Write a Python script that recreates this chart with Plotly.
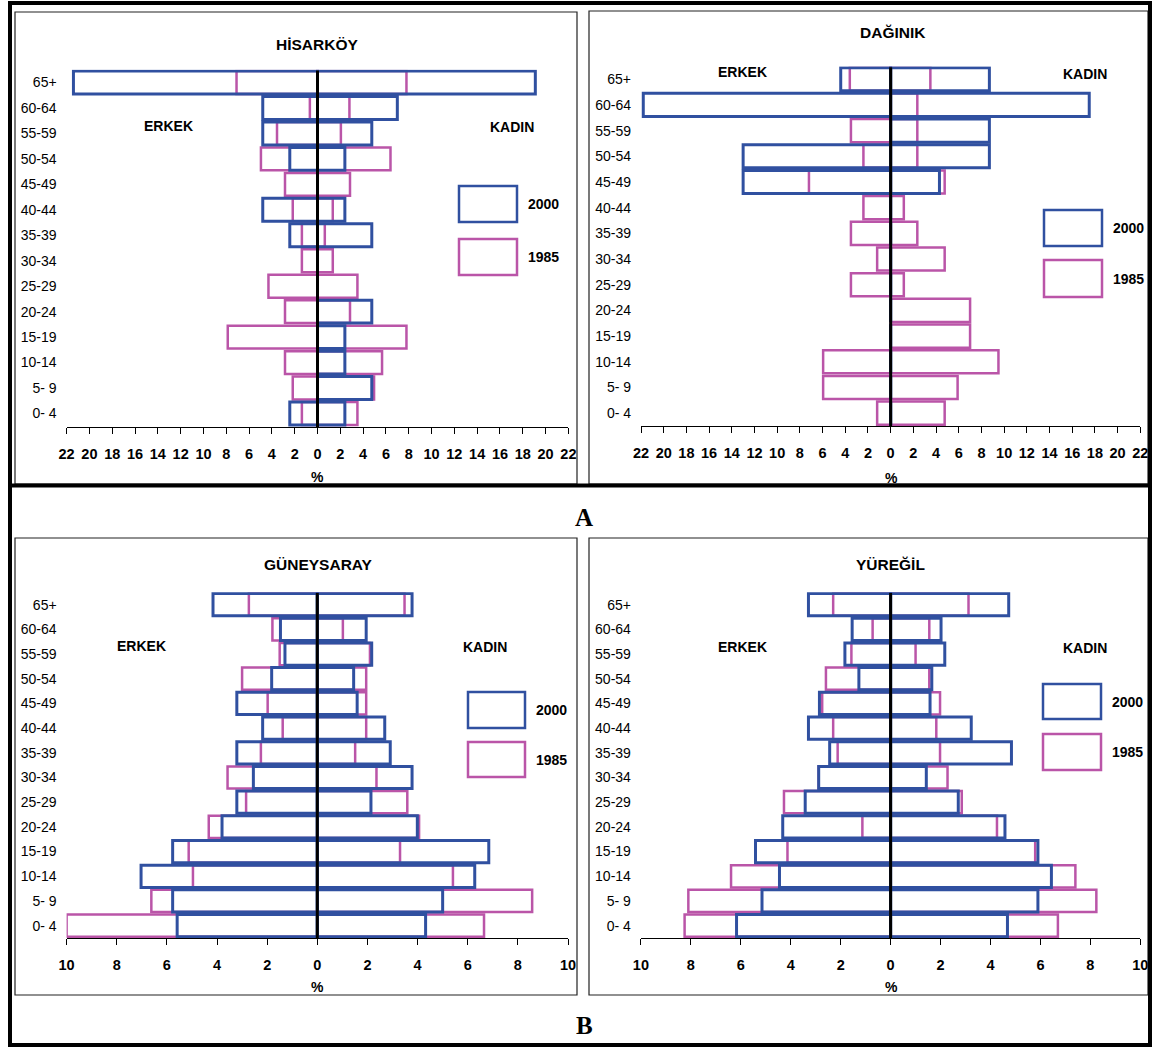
import plotly.graph_objects as go

H = 1048
VIEW_X0, VIEW_W = 8, 1142   # horizontal placement of the drawing in the photographed page

age_groups = ["0- 4", "5- 9", "10-14", "15-19", "20-24", "25-29", "30-34",
              "35-39", "40-44", "45-49", "50-54", "55-59", "60-64", "65+"]

# HİSARKÖY
his_2000_erkek = [2.43, 0, 0, 0, 0, 0, 0, 2.43, 4.8, 0, 2.43, 4.8, 4.8, 21.4]
his_2000_kadin = [2.4, 4.76, 2.4, 2.4, 4.76, 0, 0, 4.76, 2.4, 0, 2.4, 4.76, 7.0, 19.1]
his_1985_erkek = [1.37, 2.17, 2.85, 7.87, 2.85, 4.3, 1.37, 1.37, 2.17, 2.85, 4.96, 3.55, 0.67, 7.1]
his_1985_kadin = [3.5, 4.96, 5.66, 7.8, 2.85, 3.5, 1.34, 0.64, 1.34, 2.85, 6.4, 2.05, 2.8, 7.8]

# DAĞINIK
dag_2000_erkek = [0, 0, 0, 0, 0, 0, 0, 0, 0, 13.0, 13.0, 0, 21.8, 4.4]
dag_2000_kadin = [0, 0, 0, 0, 0, 0, 0, 0, 0, 4.3, 8.7, 8.7, 17.5, 8.7]
dag_1985_erkek = [1.19, 5.95, 5.95, 0, 0, 3.5, 1.19, 3.5, 2.4, 7.2, 2.4, 3.5, 0, 3.6]
dag_1985_kadin = [4.76, 5.9, 9.5, 7.0, 7.0, 1.16, 4.76, 2.35, 1.16, 4.76, 2.35, 2.35, 2.35, 3.5]

# GÜNEYSARAY
gun_2000_erkek = [5.59, 5.77, 7.03, 5.77, 3.8, 3.21, 2.55, 3.21, 2.18, 3.21, 1.82, 1.29, 1.47, 4.16]
gun_2000_kadin = [4.32, 5.0, 6.28, 6.84, 3.99, 2.14, 3.78, 2.91, 2.69, 1.59, 1.45, 2.17, 1.95, 3.78]
gun_1985_erkek = [10.0, 6.62, 4.96, 5.13, 4.33, 2.84, 3.58, 2.25, 1.38, 1.98, 3.0, 1.5, 1.79, 2.73]
gun_1985_kadin = [6.65, 8.57, 5.41, 3.3, 4.06, 3.59, 2.36, 1.51, 1.95, 1.95, 1.95, 2.1, 1.02, 3.48]

# YÜREĞİL
yur_2000_erkek = [6.17, 5.15, 4.45, 5.41, 4.32, 3.42, 2.88, 2.44, 3.29, 2.85, 1.27, 1.83, 1.54, 3.29]
yur_2000_kadin = [4.68, 5.9, 6.44, 5.9, 4.58, 2.71, 1.43, 4.84, 3.23, 1.58, 1.65, 2.17, 2.02, 4.73]
yur_1985_erkek = [8.25, 8.1, 6.39, 4.13, 1.13, 4.27, 2.88, 2.12, 2.3, 2.74, 2.59, 1.57, 0.72, 2.3]
yur_1985_kadin = [6.7, 8.24, 7.4, 5.79, 4.26, 2.85, 2.28, 1.98, 1.83, 1.98, 1.55, 1.0, 1.55, 3.12]

titles = ["HİSARKÖY", "DAĞINIK", "GÜNEYSARAY", "YÜREĞİL"]
xticks_top = list(range(-22, 23, 2))
xticks_bottom = list(range(-10, 11, 2))

BLUE = "#3050A0"
PINK = "#BA55A8"
FONT = "Liberation Sans"


def px(x):
    return min(max((x - VIEW_X0) / VIEW_W, 0.0), 1.0)


def py(y):
    return 1 - y / H


panels = [
    dict(title=titles[0], data=(his_1985_erkek, his_1985_kadin, his_2000_erkek, his_2000_kadin),
         xd=(66.6, 568.4), yd=(69.8, 427), yr=(-0.53, 13.5), ticks=xticks_top, lim=22,
         title_xy=(317, 44), erkek=(168, 126), kadin=(512, 127),
         leg=((459, 186, 517, 222), (459, 239, 517, 275)), pct=(317, 477)),
    dict(title=titles[1], data=(dag_1985_erkek, dag_1985_kadin, dag_2000_erkek, dag_2000_kadin),
         xd=(641, 1140.3), yd=(66.4, 426), yr=(-0.5, 13.5), ticks=xticks_top, lim=22,
         title_xy=(893, 33), erkek=(742, 72), kadin=(1085, 74),
         leg=((1044, 210, 1102, 246), (1044, 260, 1102, 297)), pct=(891, 478)),
    dict(title=titles[2], data=(gun_1985_erkek, gun_1985_kadin, gun_2000_erkek, gun_2000_kadin),
         xd=(66.6, 568), yd=(592.3, 938), yr=(-0.5, 13.5), ticks=xticks_bottom, lim=10,
         title_xy=(318, 564), erkek=(141, 646), kadin=(485, 647),
         leg=((468, 692, 525, 728), (468, 742, 525, 777)), pct=(317, 987)),
    dict(title=titles[3], data=(yur_1985_erkek, yur_1985_kadin, yur_2000_erkek, yur_2000_kadin),
         xd=(640.9, 1140.3), yd=(592.3, 938), yr=(-0.5, 13.5), ticks=xticks_bottom, lim=10,
         title_xy=(890, 564), erkek=(742, 647), kadin=(1085, 648),
         leg=((1043, 684, 1101, 719), (1043, 734, 1101, 770)), pct=(891, 987)),
]

fig = go.Figure()
shapes = []
annotations = []
layout = {}

for i, p in enumerate(panels, start=1):
    xa = "x" if i == 1 else f"x{i}"
    ya = "y" if i == 1 else f"y{i}"
    e85, k85, e00, k00 = p["data"]
    series = [(e85, PINK, 2.5, -1), (k85, PINK, 2.5, 1), (e00, BLUE, 3, -1), (k00, BLUE, 3, 1)]
    for vals, col, lw, sgn in series:
        fig.add_trace(go.Bar(
            x=[sgn * v for v in vals], y=age_groups, orientation="h",
            marker=dict(color="rgba(0,0,0,0)", line=dict(color=col, width=lw)),
            xaxis=xa, yaxis=ya, showlegend=False, hoverinfo="skip"))
    xkey = "xaxis" if i == 1 else f"xaxis{i}"
    ykey = "yaxis" if i == 1 else f"yaxis{i}"
    layout[xkey] = dict(
        domain=[px(p["xd"][0]), px(p["xd"][1])], anchor=ya,
        range=[-p["lim"], p["lim"]], tickvals=p["ticks"],
        ticktext=[str(abs(t)) for t in p["ticks"]],
        showline=True, linecolor="black", linewidth=1, mirror=False,
        ticks="outside", ticklen=6, tickcolor="black", tickwidth=1,
        showgrid=False, zeroline=False, fixedrange=True,
        tickfont=dict(family=FONT, size=14.5, color="black", weight="bold"),
        ticklabelstandoff=8)
    layout[ykey] = dict(
        domain=[py(p["yd"][1]), py(p["yd"][0])], anchor=xa,
        type="category", categoryorder="array", categoryarray=age_groups,
        range=list(p["yr"]), showline=False, ticks="", showgrid=False,
        zeroline=False, fixedrange=True,
        tickfont=dict(family=FONT, size=14, color="black"),
        ticklabelstandoff=9)
    # centre line
    shapes.append(dict(type="line", xref=xa, yref=ya, x0=0, x1=0,
                       y0=p["yr"][0], y1=13.47, line=dict(color="black", width=3),
                       layer="above"))
    # legend boxes
    for (x0, y0, x1, y1), col, lab in zip(p["leg"], (BLUE, PINK), ("2000", "1985")):
        shapes.append(dict(type="rect", xref="paper", yref="paper",
                           x0=px(x0), x1=px(x1), y0=py(y1), y1=py(y0),
                           line=dict(color=col, width=2.5)))
        annotations.append(dict(text=f"<b>{lab}</b>", x=px(x1 + 26), y=py((y0 + y1) / 2),
                                xref="paper", yref="paper", showarrow=False,
                                xanchor="center", yanchor="middle",
                                font=dict(family=FONT, size=14, color="black")))
    for key, txt, size in (("title_xy", p["title"], 15.5), ("erkek", "ERKEK", 14),
                           ("kadin", "KADIN", 14), ("pct", "%", 14)):
        x, y = p[key]
        annotations.append(dict(text=f"<b>{txt}</b>", x=px(x), y=py(y),
                                xref="paper", yref="paper", showarrow=False,
                                xanchor="center", yanchor="middle",
                                font=dict(family=FONT, size=size, color="black")))

# panel frames
for (x0, y0, x1, y1) in ((15, 12, 577, 484), (589, 11, 1148, 484),
                         (15, 538, 577, 995), (589, 538, 1148, 995)):
    shapes.append(dict(type="rect", xref="paper", yref="paper",
                       x0=px(x0), x1=px(x1), y0=py(y1), y1=py(y0),
                       line=dict(color="#222222", width=1.2)))
# outer frame and divider
shapes.append(dict(type="rect", xref="paper", yref="paper",
                   x0=px(10), x1=px(1150.5), y0=py(1045), y1=py(3),
                   line=dict(color="black", width=4)))
shapes.append(dict(type="line", xref="paper", yref="paper",
                   x0=px(10), x1=px(1150.5), y0=py(485.5), y1=py(485.5),
                   line=dict(color="black", width=4)))

for lab, y in (("A", 517), ("B", 1025)):
    annotations.append(dict(text=f"<b>{lab}</b>", x=px(584), y=py(y), xref="paper",
                            yref="paper", showarrow=False, xanchor="center",
                            yanchor="middle",
                            font=dict(family="Liberation Serif", size=25, color="black")))

fig.update_layout(
    autosize=True, margin=dict(l=0, r=0, t=0, b=0),
    paper_bgcolor="white", plot_bgcolor="rgba(0,0,0,0)",
    barmode="overlay", bargap=0.1, showlegend=False,
    shapes=shapes, annotations=annotations,
    font=dict(family=FONT, color="black"),
    **layout)

post = (
    "var gd=document.getElementById('{plot_id}');"
    "document.documentElement.style.margin='0';"
    "document.documentElement.style.overflow='hidden';"
    "document.body.style.margin='0';"
    "document.body.style.overflow='hidden';"
    "gd.style.width='100vw';gd.style.height='100vh';"
    "Plotly.Plots.resize(gd);"
)

fig.write_html(
    "out.html",
    config={"displayModeBar": False, "responsive": True},
    default_width="100vw", default_height="100vh",
    post_script=post,
)
